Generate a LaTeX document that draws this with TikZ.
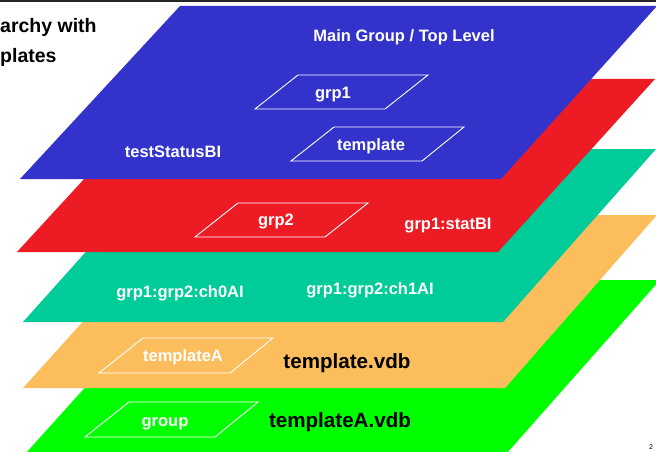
\documentclass[tikz,border=0pt]{standalone}
\usepackage{fontspec}
\setmainfont{Liberation Sans}
\definecolor{layblue}{RGB}{51,51,204}
\definecolor{layred}{RGB}{237,28,36}
\definecolor{layteal}{RGB}{0,204,153}
\definecolor{layorange}{RGB}{252,190,92}
\definecolor{laygreen}{RGB}{0,255,0}
\begin{document}
\begin{tikzpicture}[x=1pt,y=-1pt,
  wlabel/.style={text=white,font=\bfseries\fontsize{16.5}{19}\selectfont,inner sep=0pt,anchor=base},
  blabel/.style={text=black,font=\bfseries\fontsize{20.6}{24}\selectfont,inner sep=0pt,anchor=base},
  tlabel/.style={text=black,font=\bfseries\fontsize{19.5}{24}\selectfont,inner sep=0pt,anchor=base west},
  subbox/.style={draw=white,line width=0.9pt,line join=miter}
]
\clip (0,0) rectangle (656,452);
\fill[white] (0,0) rectangle (656,452);
% layers, bottom first
\fill[laygreen]  (182,280) -- (660,280) -- (507,453) -- (26,453) -- cycle;
\fill[layorange] (179,215) -- (657,215) -- (505,388) -- (23,388) -- cycle;
\fill[layteal]   (178,149) -- (656,149) -- (503,322) -- (23,322) -- cycle;
\fill[layred]    (176,79) -- (655,79) -- (498,252) -- (17,252) -- cycle;
\fill[layblue]   (180,6) -- (657,6) -- (501,179) -- (20,179) -- cycle;
% top rule
\draw[line width=1.8pt,black!85] (0,1) -- (656,1);
% title
\node[tlabel] (t1) at (0,33) {archy with};
\node[tlabel] (t2) at (0,63) {plates};
% small boxes
\draw[subbox] (298,75) -- (428,75) -- (385,109) -- (255,109) -- cycle;
\draw[subbox] (334,127) -- (464,127) -- (422,161) -- (291,161) -- cycle;
\draw[subbox] (238,203) -- (368,203) -- (325,237) -- (195,237) -- cycle;
\draw[subbox] (143,338) -- (273,338) -- (230,373) -- (99,373) -- cycle;
\draw[subbox] (129,402) -- (258,402) -- (215,437) -- (85,437) -- cycle;
% labels
\node[wlabel] (main) at (404,42) {Main Group / Top Level};
\node[wlabel] (g1) at (333,99) {grp1};
\node[wlabel] (tp) at (371,150) {template};
\node[wlabel] (ts) at (173,157) {testStatusBI};
\node[wlabel] (g2) at (276,225) {grp2};
\node[wlabel] (sb) at (448,229) {grp1:statBI};
\node[wlabel] (c0) at (180,297) {grp1:grp2:ch0AI};
\node[wlabel] (c1) at (370,294) {grp1:grp2:ch1AI};
\node[wlabel] (ta) at (183,361) {templateA};
\node[blabel] (tv) at (347,368) {template.vdb};
\node[wlabel] (gr) at (165,426) {group};
\node[blabel] (tav) at (340,427) {templateA.vdb};
\node[inner sep=0pt,anchor=south,font=\fontsize{7}{8}\selectfont] (pg) at (651,450) {2};
\end{tikzpicture}
\end{document}
